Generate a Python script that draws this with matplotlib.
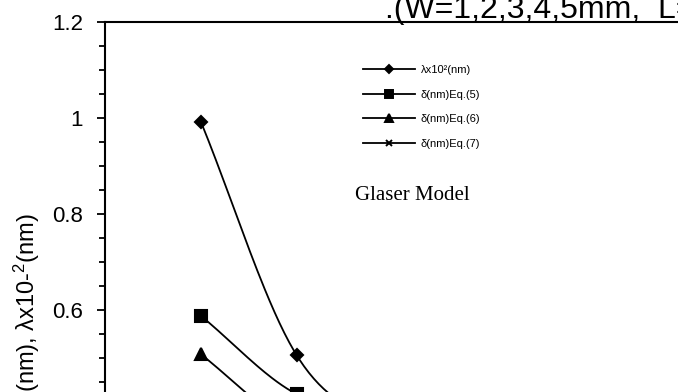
import numpy as np
import matplotlib
matplotlib.use("Agg")
import matplotlib.pyplot as plt
from matplotlib.ticker import MultipleLocator, FuncFormatter

plt.rcParams['font.family'] = ['Liberation Sans', 'DejaVu Sans']
plt.rcParams['mathtext.fontset'] = 'custom'
plt.rcParams['mathtext.rm'] = 'Liberation Sans'

# ---- data ----
W = [1, 2, 3, 4, 5]
lam = [0.991, 0.505, 0.35, 0.27, 0.22]
delta5 = [0.587, 0.424, 0.38, 0.33, 0.30]
delta6 = [0.507, 0.35, 0.30, 0.27, 0.25]
delta7 = [0.33, 0.24, 0.20, 0.18, 0.17]
labels = ["λx10²(nm)", "δ(nm)Eq.(5)", "δ(nm)Eq.(6)", "δ(nm)Eq.(7)"]


def smooth(x, y, n=40):
    x = np.asarray(x, float); y = np.asarray(y, float)
    px = np.concatenate([[2 * x[0] - x[1]], x, [2 * x[-1] - x[-2]]])
    py = np.concatenate([[2 * y[0] - y[1]], y, [2 * y[-1] - y[-2]]])
    xs, ys = [], []
    t = np.linspace(0, 1, n)
    for i in range(1, len(px) - 2):
        p0, p1, p2, p3 = [np.array([px[j], py[j]]) for j in (i - 1, i, i + 1, i + 2)]
        m1 = (p2 - p0) / 2; m2 = (p3 - p1) / 2
        h00 = 2 * t**3 - 3 * t**2 + 1; h10 = t**3 - 2 * t**2 + t
        h01 = -2 * t**3 + 3 * t**2; h11 = t**3 - t**2
        pts = (np.outer(h00, p1) + np.outer(h10, m1) + np.outer(h01, p2) + np.outer(h11, m2))
        xs.append(pts[:, 0]); ys.append(pts[:, 1])
    return np.concatenate(xs), np.concatenate(ys)


fig = plt.figure(figsize=(6.78, 3.92), dpi=100)
ax = fig.add_axes([0.1553, -0.5247, 0.8469, 1.4694])

series = [(lam, 'D', 6), (delta5, 's', 8), (delta6, '^', 8), (delta7, 'x', 6)]
for (vals, mk, ms), lab in zip(series, labels):
    sx, sy = smooth(W, vals)
    ax.plot(sx, sy, color='black', lw=1.3)
    ax.plot(W, vals, linestyle='none', marker=mk, ms=ms, color='black', mew=1.5)
    ax.plot([], [], color='black', lw=1.3, marker=mk, ms=ms * 0.75, mew=1.4, label=lab)

ax.set_xlim(0, 6)
ax.set_ylim(0, 1.2)
ax.yaxis.set_major_locator(MultipleLocator(0.2))
ax.yaxis.set_minor_locator(MultipleLocator(0.05))
ax.yaxis.set_major_formatter(FuncFormatter(lambda v, p: ('%g' % round(v, 3))))
ax.tick_params(axis='y', which='major', direction='out', length=6, width=1.3,
               labelsize=16, pad=10)
ax.tick_params(axis='y', which='minor', direction='out', length=4.5, width=1.3)
ax.tick_params(axis='x', which='both', bottom=False, labelbottom=False)
for s in ax.spines.values():
    s.set_linewidth(1.5)

leg = ax.legend(loc='upper left', bbox_to_anchor=(363 / 678, (392 - 65) / 392),
                bbox_transform=fig.transFigure, frameon=False, fontsize=8,
                handlelength=4.7, handletextpad=0.5, labelspacing=1.32,
                borderpad=0, borderaxespad=0, numpoints=1)

fig.text(355 / 678, (392 - 200) / 392, "Glaser Model", family='Liberation Serif',
         fontsize=15, ha='left', va='baseline')
fig.text(385 / 678, (392 - 18) / 392, ".(W=1,2,3,4,5mm,  L=", fontsize=23,
         ha='left', va='baseline')
fig.text(27 / 678, (392 - 213) / 392, r"δ(nm), λx10-$\mathregular{^2}$(nm)",
         rotation=90, fontsize=17, ha='center', va='top')

fig.savefig("out.png", dpi=100)
